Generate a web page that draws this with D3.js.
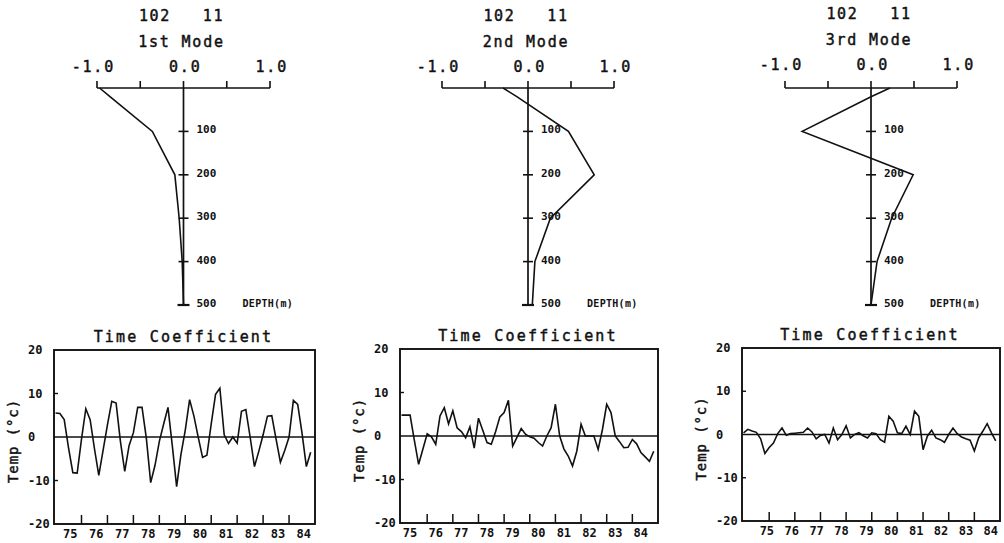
<!DOCTYPE html>
<html><head><meta charset="utf-8">
<script src="https://cdn.jsdelivr.net/npm/d3@7"></script>
<style>body{margin:0;background:#fff}svg{display:block}</style>
</head><body><svg id="c" width="1004" height="543"></svg>
<script>
// ---------- data ----------
const stationLabel = "102   11";
const modeTitles = ["1st Mode", "2nd Mode", "3rd Mode"];
const depths = [0, 20, 100, 200, 300, 400, 500];
const mode1 = [-0.97, -0.85, -0.36, -0.10, -0.05, -0.015, 0.0];
const mode2 = [-0.29, -0.13, 0.47, 0.77, 0.26, 0.08, 0.05];
const mode3 = [0.22, 0.0, -0.80, 0.49, 0.24, 0.07, 0.0];
const amplitudeTicks = [-1.0, -0.5, 0.0, 0.5, 1.0];
const amplitudeLabels = [-1.0, 0.0, 1.0];
const depthTicks = [100, 200, 300, 400, 500];
const depthTitle = "DEPTH(m)";

const timeTitle = "Time Coefficient";
const tempTitle = "Temp (°c)";
const tempTicks = [20, 10, 0, -10, -20];
const yearLabels = ["75", "76", "77", "78", "79", "80", "81", "82", "83", "84"];
const yearBoundaries = [1976, 1977, 1978, 1979, 1980, 1981, 1982, 1983, 1984];
const startYear = 1975;      // bimonthly samples, 6 per year
const samplesPerYear = 6;
const coef1 = [5.5, 5.4, 4.0, -2.5, -8.2, -8.3, -0.5, 6.5, 4.0, -2.7,
  -8.8, -3.0, 2.8, 8.2, 7.8, -1.0, -7.9, -2.0, 1.0, 6.8,
  6.8, -0.3, -10.5, -6.5, -1.0, 3.0, 6.8, -2.0, -11.4, -4.0,
  1.6, 8.6, 4.8, -0.1, -4.7, -4.2, 3.0, 9.8, 11.2, 0.5,
  -1.5, 0.0, -1.4, 5.9, 6.3, 0.0, -6.8, -3.3, 0.5, 4.8,
  4.9, -0.5, -5.8, -3.1, 0.0, 8.4, 7.5, 0.9, -6.8, -3.5];
const coef2 = [4.8, 4.8, 4.8, -1.0, -6.5, -3.0, 0.5, -0.2, -1.9, 4.6,
  6.5, 2.8, 5.8, 1.9, 1.0, -0.4, 2.1, -2.8, 4.1, 1.3,
  -1.5, -1.9, 1.0, 4.4, 5.4, 8.2, -2.3, -0.3, 1.7, 0.4,
  -0.2, -0.5, -1.5, -2.3, 0.0, 1.9, 7.3, 0.0, -3.0, -4.6,
  -6.9, -3.5, 2.7, 0.0, 0.0, 0.0, -3.1, 1.5, 7.3, 5.4,
  0.0, -1.3, -2.7, -2.6, -0.8, -1.8, -3.8, -4.8, -5.8, -3.5];
const coef3 = [0.4, 1.2, 0.8, 0.5, -1.0, -4.4, -3.0, -2.0, 0.2, 1.5,
  -0.2, 0.2, 0.3, 0.4, 0.5, 1.5, 0.6, -1.0, -0.2, 0.0,
  -2.0, 1.5, -1.2, 0.0, 2.0, -0.8, 0.0, 0.4, -0.3, -0.8,
  0.4, 0.2, -1.2, -1.8, 4.2, 3.1, 0.4, 0.2, 1.9, 0.0,
  5.4, 4.2, -3.5, -0.4, 1.0, -0.8, -1.2, -1.8, 0.0, 1.5,
  0.2, -0.6, -1.0, -1.3, -3.8, -0.8, 0.8, 2.5, 0.4, -1.5];

// ---------- layout ----------
const svg = d3.select("#c");
const ink = "#111";
const mono = "'DejaVu Sans Mono','Liberation Mono',monospace";

function heavy(sel) {
  return sel.attr("stroke", ink).attr("stroke-width", 0.45).attr("fill", ink);
}

const profiles = [
  {vals: mode1, x0: 97, x1: 270, top: 88, bot: 305, tDy: 0},
  {vals: mode2, x0: 442, x1: 614, top: 88, bot: 305, tDy: 0},
  {vals: mode3, x0: 785, x1: 957, top: 88, bot: 305, tDy: -2}
];

profiles.forEach((p, k) => {
  const g = svg.append("g");
  const x = d3.scaleLinear().domain([-1, 1]).range([p.x0, p.x1]);
  const y = d3.scaleLinear().domain([0, 500]).range([p.top, p.bot]);
  const x0 = x(0);
  heavy(g.append("text").attr("x", x0 - 2).attr("y", 21 + p.tDy)
    .attr("text-anchor", "middle").attr("font-family", mono).attr("font-size", 15)
    .style("letter-spacing", "1.6px").style("white-space", "pre")).text(stationLabel);
  heavy(g.append("text").attr("x", x0 - 2).attr("y", 47 + p.tDy)
    .attr("text-anchor", "middle").attr("font-family", mono).attr("font-size", 15)
    .style("letter-spacing", "1.8px")).text(modeTitles[k]);
  // amplitude axis
  g.append("line").attr("x1", x(-1)).attr("x2", x(1)).attr("y1", p.top).attr("y2", p.top)
    .attr("stroke", ink).attr("stroke-width", 1.7);
  g.selectAll(".at").data(amplitudeTicks).join("line")
    .attr("x1", d => x(d)).attr("x2", d => x(d)).attr("y1", p.top).attr("y2", p.top - 7)
    .attr("stroke", ink).attr("stroke-width", 1.6);
  heavy(g.selectAll(".al").data(amplitudeLabels).join("text")
    .attr("x", d => x(d) + 18).attr("y", 72 + p.tDy).attr("text-anchor", "end")
    .attr("font-family", mono).attr("font-size", 15).style("letter-spacing", "1.8px"))
    .text(d => d3.format(".1f")(d).replace("−", "-"));
  // depth axis
  g.append("line").attr("x1", x0).attr("x2", x0).attr("y1", p.top).attr("y2", p.bot)
    .attr("stroke", ink).attr("stroke-width", 1.7);
  g.selectAll(".dt").data(depthTicks).join("line")
    .attr("x1", d => x0 - (d === 500 ? 6 : 5)).attr("x2", d => x0 + (d === 500 ? 6 : 5))
    .attr("y1", d => y(d)).attr("y2", d => y(d))
    .attr("stroke", ink).attr("stroke-width", d => d === 500 ? 2.2 : 1.6);
  g.selectAll(".dl").data(depthTicks).join("text")
    .attr("x", x0 + 13).attr("y", d => y(d) + 2)
    .attr("font-family", mono).attr("font-size", 11).attr("font-weight", "bold")
    .attr("fill", ink).text(d => d);
  g.append("text").attr("x", x0 + 59).attr("y", y(500) + 2)
    .attr("font-family", mono).attr("font-size", 10).attr("font-weight", "bold")
    .style("letter-spacing", "0.3px").attr("fill", ink).text(depthTitle);
  const line = d3.line().x(d => x(d[1])).y(d => y(d[0]));
  g.append("path").datum(depths.map((d, i) => [d, p.vals[i]])).attr("d", line)
    .attr("fill", "none").attr("stroke", ink).attr("stroke-width", 1.6)
    .attr("stroke-linejoin", "miter");
});

const series = [
  {vals: coef1, l: 54, r: 315, t: 350, b: 524, lab0: 0.57, labStep: 1.0},
  {vals: coef2, l: 400, r: 658, t: 349, b: 523, lab0: 0.33, labStep: 1.0},
  {vals: coef3, l: 742, r: 1000, t: 348, b: 521, lab0: 0.91, labStep: 0.97}
];

series.forEach(s => {
  const g = svg.append("g");
  const x = d3.scaleLinear().domain([1974.94, 1985.0]).range([s.l, s.r]);
  const y = d3.scaleLinear().domain([-20, 20]).range([s.b, s.t]);
  heavy(g.append("text").attr("x", (s.l + s.r) / 2 - 1).attr("y", s.t - 8)
    .attr("text-anchor", "middle").attr("font-family", mono).attr("font-size", 15)
    .style("letter-spacing", "2.2px")).text(timeTitle);
  heavy(g.append("text").attr("transform", `translate(${s.l - 36},${(s.t + s.b) / 2 + 4}) rotate(-90)`)
    .attr("text-anchor", "middle").attr("font-family", mono).attr("font-size", 14)
    .style("letter-spacing", "0.9px")).text(tempTitle);
  g.append("rect").attr("x", s.l).attr("y", s.t).attr("width", s.r - s.l).attr("height", s.b - s.t)
    .attr("fill", "none").attr("stroke", ink).attr("stroke-width", 1.9);
  g.selectAll(".yl").data(tempTicks).join("text")
    .attr("x", s.l - 26).attr("y", d => y(d) + 4)
    .attr("font-family", mono).attr("font-size", 12).attr("font-weight", "bold")
    .attr("fill", ink).text(d => d);
  g.selectAll(".yt").data([10, -10]).join("line")
    .attr("x1", s.l).attr("x2", s.l + 4).attr("y1", d => y(d)).attr("y2", d => y(d))
    .attr("stroke", ink).attr("stroke-width", 1.4);
  g.selectAll(".xt").data(yearBoundaries).join("line")
    .attr("x1", d => x(d)).attr("x2", d => x(d)).attr("y1", s.b).attr("y2", s.b - 9)
    .attr("stroke", ink).attr("stroke-width", 1.5);
  g.selectAll(".xl").data(yearLabels).join("text")
    .attr("x", (d, i) => x(startYear + s.lab0 + i * s.labStep)).attr("y", s.b + 14)
    .attr("text-anchor", "middle").attr("font-family", mono).attr("font-size", 12)
    .attr("font-weight", "bold").attr("fill", ink).text(d => d);
  g.append("line").attr("x1", s.l).attr("x2", s.r).attr("y1", y(0)).attr("y2", y(0))
    .attr("stroke", ink).attr("stroke-width", 1.7);
  const line = d3.line().x((d, i) => x(startYear + i / samplesPerYear)).y(d => y(d));
  g.append("path").datum(s.vals).attr("d", line)
    .attr("fill", "none").attr("stroke", ink).attr("stroke-width", 1.6);
});
</script></body></html>
